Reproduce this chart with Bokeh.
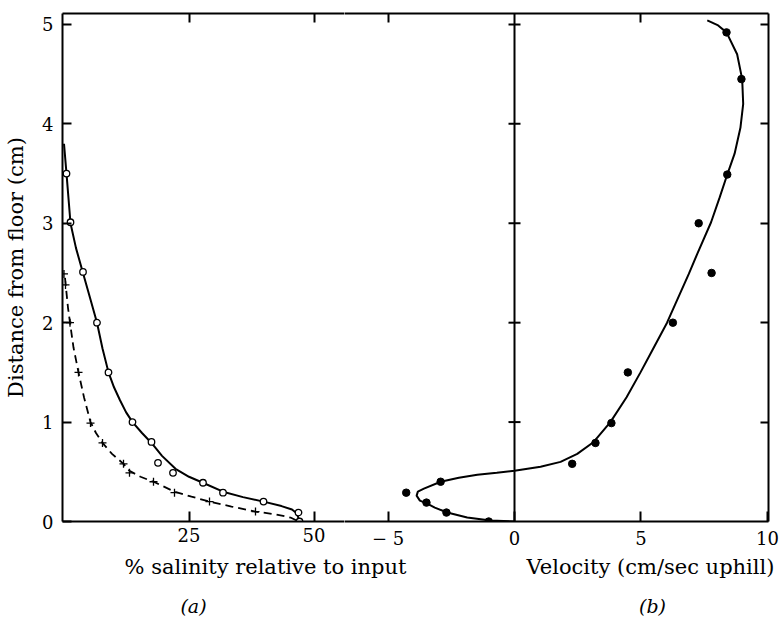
from bokeh.plotting import figure
from bokeh.layouts import column, row
from bokeh.models import Range1d, FixedTicker, LinearAxis, Span
from bokeh.core.properties import value
from bokeh.embed import file_html
from bokeh.resources import INLINE

# ---------------- data ----------------
# panel (a): salinity, open circles + solid curve
sal_open_x = [0.5, 1.3, 3.8, 6.6, 8.9, 13.7, 17.5, 18.8, 21.8, 27.8, 31.8, 39.9, 46.9, 47.1]
sal_open_y = [3.50, 3.01, 2.51, 2.00, 1.50, 1.00, 0.80, 0.59, 0.49, 0.39, 0.29, 0.20, 0.09, 0.00]
sal_curve_x = [0.0, 0.5, 1.3, 2.4, 3.8, 5.2, 6.6, 7.7, 8.9, 10.0, 11.2, 12.4, 13.7, 15.6, 17.5,
               19.6, 22.3, 25.0, 28.0, 31.8, 35.8, 39.9, 43.5, 45.6, 46.6, 47.1]
sal_curve_y = [3.80, 3.50, 3.00, 2.75, 2.50, 2.25, 2.00, 1.74, 1.50, 1.35, 1.22, 1.10, 1.00, 0.89,
               0.79, 0.66, 0.53, 0.45, 0.385, 0.30, 0.245, 0.20, 0.155, 0.12, 0.08, 0.00]
# panel (a): crosses + dashed curve
sal_cross_x = [0.0, 0.3, 1.2, 2.9, 5.3, 7.7, 11.9, 13.1, 17.9, 22.1, 29.1, 38.3]
sal_cross_y = [2.49, 2.38, 2.00, 1.50, 0.99, 0.79, 0.58, 0.49, 0.40, 0.29, 0.20, 0.10]
sal_dash_x = [0.2, 0.5, 0.8, 1.2, 1.9, 2.9, 4.0, 5.3, 6.4, 7.7, 9.6, 11.9, 13.1, 15.3,
              17.9, 22.1, 25.5, 29.1, 33.5, 38.3, 42.5, 45.3, 46.9]
sal_dash_y = [2.45, 2.30, 2.15, 2.00, 1.75, 1.50, 1.25, 1.00, 0.89, 0.79, 0.68, 0.58, 0.51, 0.45,
              0.40, 0.30, 0.25, 0.20, 0.15, 0.10, 0.07, 0.04, 0.00]
# panel (b): velocity, filled dots + solid curve
vel_dot_x = [-1.02, -2.69, -3.48, -2.92, -4.28, 2.28, 3.20, 3.83, 4.48, 6.26, 7.79, 7.28, 8.41, 8.97, 8.38]
vel_dot_y = [0.00, 0.09, 0.19, 0.40, 0.29, 0.58, 0.79, 0.99, 1.50, 2.00, 2.50, 3.00, 3.49, 4.45, 4.92]
vel_curve_x = [0.0, -0.95, -1.87, -2.66, -3.15, -3.45, -3.74, -3.87, -3.82, -3.58, -2.92, -2.20,
               -1.47, -0.70, 0.0, 1.03, 1.82, 2.48, 3.13, 3.79, 4.43, 4.98, 5.38, 6.03, 6.36,
               6.89, 7.22, 7.77, 8.11, 8.41, 8.70, 8.93, 9.04, 9.00, 8.80, 8.38, 8.05, 7.62]
vel_curve_y = [0.00, 0.01, 0.04, 0.09, 0.14, 0.18, 0.21, 0.26, 0.30, 0.33, 0.40, 0.44,
               0.47, 0.49, 0.51, 0.55, 0.60, 0.68, 0.80, 1.00, 1.25, 1.50, 1.69, 2.00, 2.19,
               2.49, 2.69, 3.01, 3.26, 3.49, 3.70, 3.96, 4.20, 4.45, 4.70, 4.92, 4.99, 5.04]

y_ticks = [0, 1, 2, 3, 4, 5]
mid_ticks = [1, 2, 3, 4, 5]
sal_ticks = [25, 50]
vel_ticks = [-5, 0, 5, 10]
vel_edge_ticks = [-5, 5]
vel_label_overrides = {-5: "\u2212 5"}
y_title = "Distance from floor (cm)"
x_titles = ["% salinity relative to input", "Velocity (cm/sec uphill)"]
panel_tags = ["(a)", "(b)"]

# ---------------- styling ----------------
FONT = "DejaVu Serif"
TICK_FS = "18px"
LABEL_FS = "21px"
TAG_FS = "19px"
Y_END = 5.11
LW = 2


def style_axis(ax, ticks, tick_in, show_labels=True):
    ax.ticker = FixedTicker(ticks=ticks)
    ax.major_tick_in = tick_in
    ax.major_tick_out = 0
    ax.minor_tick_in = 0
    ax.minor_tick_out = 0
    ax.axis_line_width = LW
    ax.axis_line_color = "black"
    ax.major_tick_line_width = LW
    ax.major_tick_line_color = "black"
    ax.major_label_text_font = FONT
    if show_labels:
        ax.major_label_text_font_size = TICK_FS
        ax.major_label_text_color = "black"
    else:
        ax.major_label_text_font_size = "1px"
        ax.major_label_text_color = None
        ax.major_label_standoff = 0


H_MAIN = 552
BOT = 31

p1 = figure(width=344, height=H_MAIN, x_range=Range1d(-0.3, 56.1), y_range=Range1d(0, Y_END),
            output_backend="svg", toolbar_location=None)
p1.min_border = 0
p1.min_border_left = 62
p1.min_border_right = 0
p1.min_border_top = 13
p1.min_border_bottom = BOT
p1.outline_line_color = None
p1.grid.visible = False
p1.background_fill_color = "white"
p1.border_fill_color = "white"

style_axis(p1.xaxis[0], sal_ticks, 10)
p1.xaxis[0].major_label_standoff = 6
style_axis(p1.yaxis[0], y_ticks, 9)
p1.yaxis[0].major_label_standoff = 9
p1.yaxis[0].axis_label = y_title
p1.yaxis[0].axis_label_text_font = FONT
p1.yaxis[0].axis_label_text_font_size = LABEL_FS
p1.yaxis[0].axis_label_text_font_style = "normal"
p1.yaxis[0].axis_label_text_color = "black"
p1.yaxis[0].axis_label_standoff = 11
top1 = LinearAxis()
style_axis(top1, sal_ticks, 9, show_labels=False)
p1.add_layout(top1, "above")

p1.line(sal_curve_x, sal_curve_y, line_color="black", line_width=2)
p1.line(sal_dash_x, sal_dash_y, line_color="black", line_width=1.8, line_dash="8 5")
p1.scatter(sal_cross_x, sal_cross_y, marker="cross", size=8, line_color="black", line_width=1.3)
p1.scatter(sal_open_x, sal_open_y, marker="circle", size=6.5, line_color="black",
           line_width=1.3, fill_color="white")

p2 = figure(width=435, height=H_MAIN, x_range=Range1d(-6.72, 10.04), y_range=Range1d(0, Y_END),
            output_backend="svg", toolbar_location=None, y_axis_location="right")
p2.min_border = 0
p2.min_border_left = 0
p2.min_border_right = 11
p2.min_border_top = 13
p2.min_border_bottom = BOT
p2.outline_line_color = None
p2.grid.visible = False
p2.background_fill_color = "white"
p2.border_fill_color = "white"

style_axis(p2.xaxis[0], vel_ticks, 10)
p2.xaxis[0].major_label_standoff = 6
p2.xaxis[0].major_label_overrides = vel_label_overrides
style_axis(p2.yaxis[0], mid_ticks, 8, show_labels=False)
top2 = LinearAxis()
style_axis(top2, vel_edge_ticks, 9, show_labels=False)
p2.add_layout(top2, "above")

p2.add_layout(Span(location=0, dimension="height", line_color="black", line_width=LW))
p2.scatter([0] * len(mid_ticks), mid_ticks, marker="dash", size=12, line_color="black", line_width=LW)

p2.line(vel_curve_x, vel_curve_y, line_color="black", line_width=2)
p2.scatter(vel_dot_x, vel_dot_y, marker="circle", size=7.5, color="black")

# bottom strip with axis titles and panel tags
H_BOT = 619 - H_MAIN
p3 = figure(width=779, height=H_BOT, x_range=Range1d(0, 779), y_range=Range1d(H_BOT, 0),
            output_backend="svg", toolbar_location=None)
p3.min_border = 0
p3.axis.visible = False
p3.grid.visible = False
p3.outline_line_color = None
p3.text(x=[265, 650], y=[14, 14], text=x_titles, text_font=value(FONT), text_font_size=LABEL_FS,
        text_align="center", text_baseline="middle", text_color="black")
p3.text(x=[193, 652], y=[53, 53], text=panel_tags, text_font=value(FONT), text_font_size=TAG_FS,
        text_font_style="italic", text_align="center", text_baseline="middle", text_color="black")

layout = column(row(p1, p2), p3)
open("out.html", "w").write(file_html(layout, INLINE))
